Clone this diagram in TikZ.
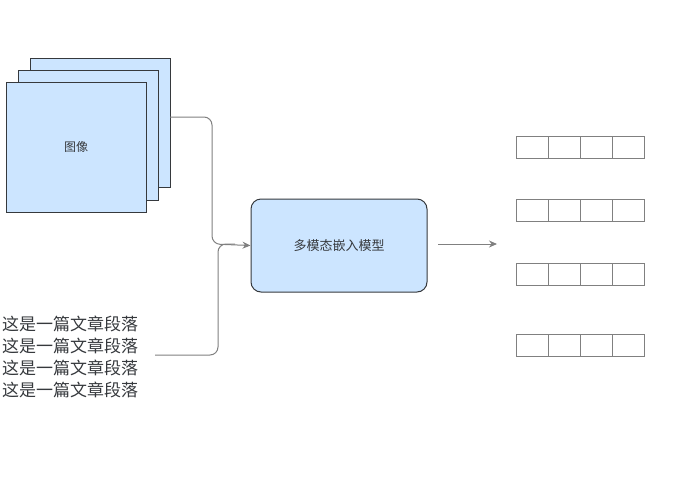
\documentclass[tikz,border=0pt]{standalone}
\usepackage{fontspec}
\setmainfont{Noto Sans CJK SC}
\usetikzlibrary{arrows.meta}
\definecolor{fillb}{HTML}{CCE5FF}
\definecolor{edge}{HTML}{36393D}
\definecolor{lin}{HTML}{808080}
\begin{document}
\begin{tikzpicture}[x=1pt,y=-1pt,
  sq/.style={draw=edge,fill=fillb,line width=1pt},
  cell/.style={draw=lin,line width=0.8pt,minimum width=32pt,minimum height=22pt,inner sep=0pt},
  conn/.style={draw=lin,line width=1pt,rounded corners=8pt},
  tip/.style={-{Stealth[length=8pt,width=7pt]}}]
\useasboundingbox (0,0) rectangle (679,480);
\draw[sq] (30,58) rectangle (170,187);
\draw[sq] (18,70) rectangle (158,200);
\node[sq,minimum width=140pt,minimum height=130pt,inner sep=0pt,font=\fontsize{12}{14}\selectfont,text=edge] (img) at (76,147) {图像};
\node[draw=edge,fill=fillb,line width=1pt,rounded corners=10pt,minimum width=176pt,minimum height=93pt,font=\fontsize{13}{15}\selectfont,text=edge] (model) at (339,245.5) {多模态嵌入模型};
\node[anchor=north west,inner sep=0pt,align=left,font=\fontsize{17}{22}\selectfont,text=edge] (txt) at (2,316) {这是一篇文章段落\\这是一篇文章段落\\这是一篇文章段落\\这是一篇文章段落};
\coordinate (t1) at (170,117);
\coordinate (t2) at (155,355);
\draw[conn,tip] (t1) -- (212,117) -- (212,244) -- (model.west);
\draw[conn] (t2) -- (218,355) -- (218,244) -- (235,244);
\coordinate (o1) at (438,244);
\coordinate (o2) at (497,244);
\draw[lin,line width=1pt,tip] (o1) -- (o2);
\foreach \r/\y in {a/147,b/210,c/274,d/345}{
  \foreach \i in {0,1,2,3}{
    \node[cell] (\r\i) at (532+32*\i,\y) {};
  }
}
\end{tikzpicture}
\end{document}
